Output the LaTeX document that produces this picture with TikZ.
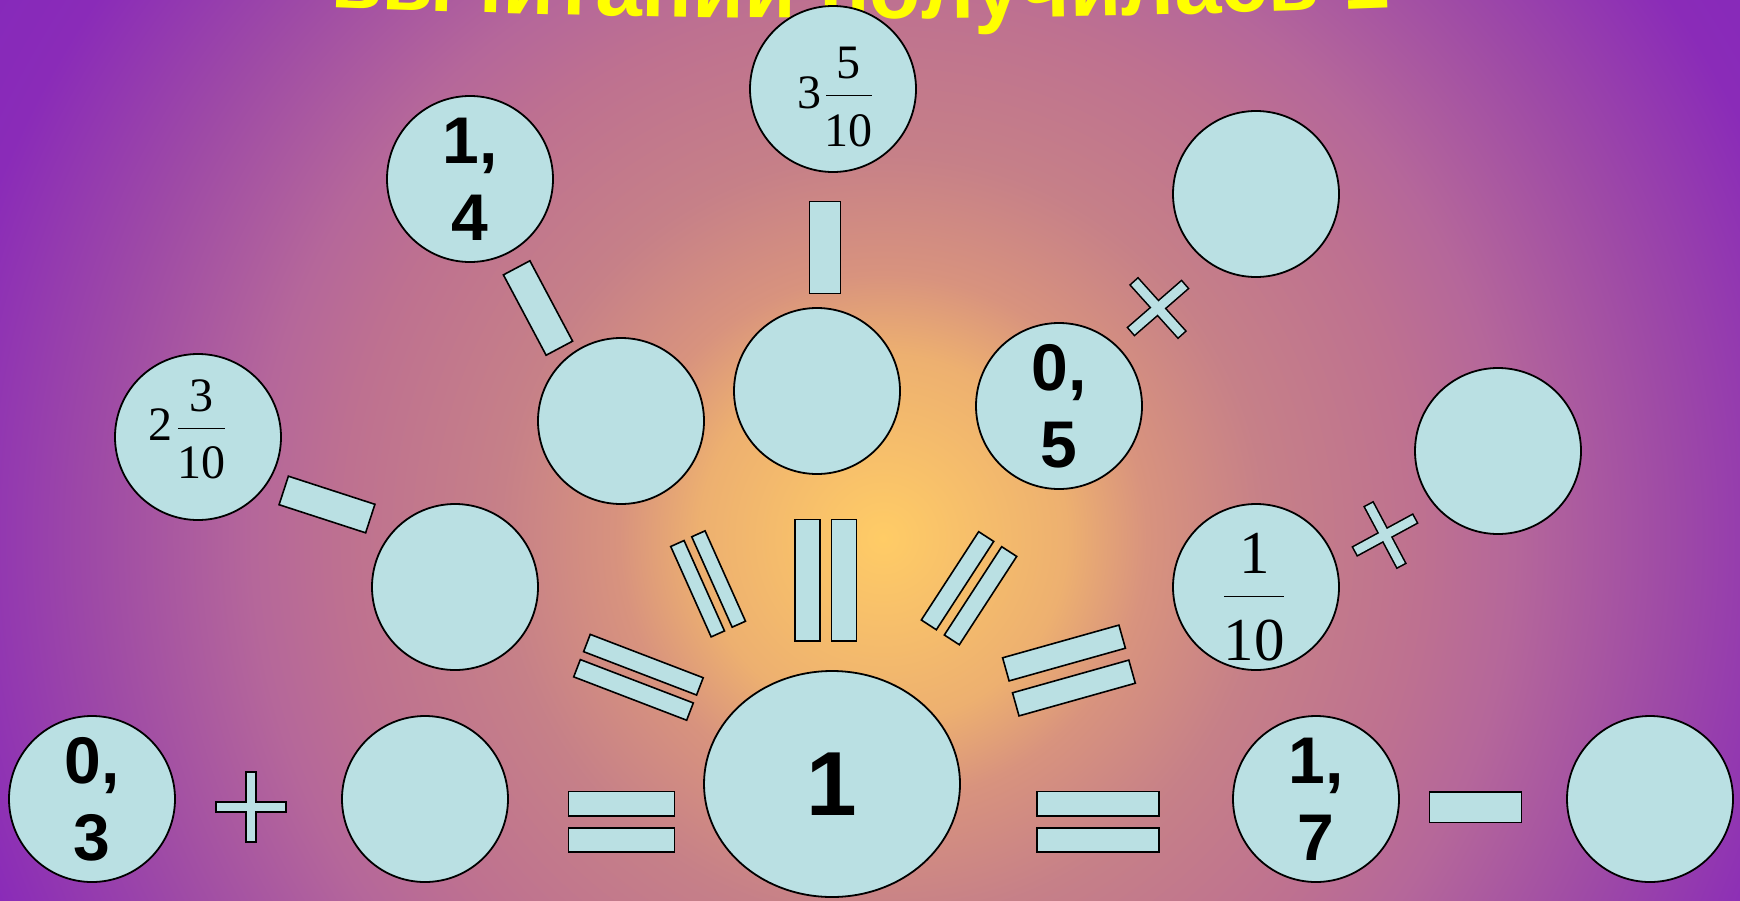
\documentclass[tikz,border=0pt]{standalone}
\usepackage{fontspec}
\setmainfont{Liberation Sans}
\newfontfamily\serifnum{Liberation Serif}
\usetikzlibrary{shapes.geometric,decorations.text}
\definecolor{bubblecol}{HTML}{BAE0E3}
\definecolor{titleyellow}{HTML}{FFFF00}
\definecolor{g0}{HTML}{FFCC66}
\definecolor{g1}{HTML}{EDB070}
\definecolor{g2}{HTML}{D8937E}
\definecolor{g3}{HTML}{C68088}
\definecolor{g4}{HTML}{BE7190}
\definecolor{g5}{HTML}{B5679A}
\definecolor{g6}{HTML}{9E4AA6}
\definecolor{g7}{HTML}{8A2BB8}
\definecolor{g8}{HTML}{8428BC}
\pgfdeclareradialshading{bgshade}{\pgfpointorigin}{color(0bp)=(g0); color(4.6bp)=(g1); color(6.6bp)=(g2); color(9.6bp)=(g3); color(13.45bp)=(g4); color(15.75bp)=(g5); color(19.75bp)=(g6); color(23.85bp)=(g7); color(27.5bp)=(g8); color(50bp)=(g8)}
\tikzset{
  bubble/.style={circle, draw=black, line width=1.8pt, fill=bubblecol, minimum size=166pt, inner sep=0pt, font=\fontsize{66}{76.7}\selectfont\bfseries, align=center},
  bar/.style={rectangle, draw=black, line width=1.6pt, fill=bubblecol, inner sep=0pt},
  barout/.style={rectangle, draw=black, line width=3.2pt, fill=bubblecol, inner sep=0pt},
  barfill/.style={rectangle, fill=bubblecol, inner sep=0pt},
  fracnum/.style={anchor=base, inner sep=0pt, font=\serifnum\fontsize{48}{48}\selectfont},
  fracbig/.style={anchor=base, inner sep=0pt, font=\serifnum\fontsize{61}{61}\selectfont},
  fracbar/.style={line width=1.4pt, draw=black},
}
\begin{document}
\begin{tikzpicture}[x=1pt,y=-1pt]
\useasboundingbox (0,0) rectangle (1740,900);
\begin{scope}
\clip (0,0) rectangle (1740,900);
\shade[shading=bgshade] (-117,-462) rectangle (1883,1538);
% title (mostly above the top edge)
\path[decorate, decoration={text along path, text={|\fontsize{84}{90}\selectfont\bfseries\color{titleyellow}|вычитании получилась 1}, text align=center}] (320,7) .. controls (700,22) and (1010,22) .. (1400,7);
\end{scope}
% circles
\node[bubble] (c35) at (833,89) {};
\node[bubble] (c14) at (470,179) {1,\\4};
\node[bubble] (c23) at (198,437) {};
\node[bubble] (e1) at (621,421) {};
\node[bubble] (e2) at (817,391) {};
\node[bubble] (c05) at (1059,406) {0,\\5};
\node[bubble] (e3) at (1256,194) {};
\node[bubble] (e4) at (1498,451) {};
\node[bubble] (c110) at (1256,587) {};
\node[bubble] (e5) at (455,587) {};
\node[bubble] (c03) at (92,799) {0,\\3};
\node[bubble] (e6) at (425,799) {};
\node[bubble, ellipse, minimum width=256pt, minimum height=226pt, font=\fontsize{91}{100}\selectfont\bfseries] (one) at (832,784) {1};
\node[bubble] (c17) at (1316,799) {1,\\7};
\node[bubble] (e7) at (1650,799) {};
% fractions
\node[fracnum] (f1w) at (809,108.3) {3};
\node[fracnum] (f1n) at (848.8,78.3) {5};
\draw[fracbar] (826,95.7) -- (871.7,95.7);
\node[fracnum] (f1d) at (848.8,146.7) {10};
\node[fracnum] (f2w) at (160.4,440) {2};
\node[fracnum] (f2n) at (201,411) {3};
\draw[fracbar] (178.3,428.3) -- (225,428.3);
\node[fracnum] (f2d) at (201.7,478.3) {10};
\node[fracbig] (f3n) at (1255,573.3) {1};
\draw[fracbar] (1224,596.7) -- (1284,596.7);
\node[fracbig] (f3d) at (1254.2,660) {10};
% minus signs
\node[bar, minimum width=31pt, minimum height=92pt] (m1) at (825,247.5) {};
\node[bar, minimum width=91pt, minimum height=30pt, rotate=-62] (m2) at (538,308) {};
\node[bar, minimum width=91pt, minimum height=30pt, rotate=-18] (m3) at (327,504.5) {};
\node[bar, minimum width=92pt, minimum height=30.6pt] (m4) at (1475.5,807) {};
% times top right
\node[barout, minimum width=70pt, minimum height=9pt, rotate=41] (x1a) at (1158,308) {};
\node[barout, minimum width=70pt, minimum height=9pt, rotate=-48] (x1b) at (1158,308) {};
\node[barfill, minimum width=70pt, minimum height=9pt, rotate=41] (x1c) at (1158,308) {};
\node[barfill, minimum width=70pt, minimum height=9pt, rotate=-48] (x1d) at (1158,308) {};
% times right
\node[barout, minimum width=67pt, minimum height=8.5pt, rotate=28.5] (x2a) at (1385,535) {};
\node[barout, minimum width=68pt, minimum height=8.5pt, rotate=-62] (x2b) at (1385,535) {};
\node[barfill, minimum width=67pt, minimum height=8.5pt, rotate=28.5] (x2c) at (1385,535) {};
\node[barfill, minimum width=68pt, minimum height=8.5pt, rotate=-62] (x2d) at (1385,535) {};
% plus
\node[barout, minimum width=68pt, minimum height=8.5pt] (p1a) at (251,807) {};
\node[barout, minimum width=8.5pt, minimum height=68pt] (p1b) at (251,807) {};
\node[barfill, minimum width=68pt, minimum height=8.5pt] (p1c) at (251,807) {};
\node[barfill, minimum width=8.5pt, minimum height=68pt] (p1d) at (251,807) {};
% equals bottom
\node[bar, minimum width=106pt, minimum height=24.5pt] (q1a) at (621.4,803.8) {};
\node[bar, minimum width=106pt, minimum height=24.5pt] (q1b) at (621.4,840) {};
\node[bar, minimum width=122pt, minimum height=24.5pt] (q2a) at (1097.7,803.8) {};
\node[bar, minimum width=122pt, minimum height=24.5pt] (q2b) at (1097.7,840) {};
% radiating equals
\node[bar, minimum width=121pt, minimum height=18.5pt, rotate=-21] (d1a) at (643.4,664.7) {};
\node[bar, minimum width=121pt, minimum height=18.5pt, rotate=-21] (d1b) at (633.5,689.9) {};
\node[bar, minimum width=99pt, minimum height=14.6pt, rotate=-65.9] (d2a) at (697.6,588.7) {};
\node[bar, minimum width=99pt, minimum height=14.6pt, rotate=-65.9] (d2b) at (718.6,579) {};
\node[bar, minimum width=25pt, minimum height=121.4pt] (d3a) at (807.4,580) {};
\node[bar, minimum width=25pt, minimum height=121.4pt] (d3b) at (843.8,580) {};
\node[bar, minimum width=105.3pt, minimum height=17.9pt, rotate=57] (d4a) at (957.5,580.7) {};
\node[bar, minimum width=105.3pt, minimum height=17.9pt, rotate=57] (d4b) at (980.5,595.7) {};
\node[bar, minimum width=120.8pt, minimum height=24pt, rotate=15.7] (d5a) at (1064,653) {};
\node[bar, minimum width=120.8pt, minimum height=24pt, rotate=15.7] (d5b) at (1073.9,688) {};
\end{tikzpicture}
\end{document}
